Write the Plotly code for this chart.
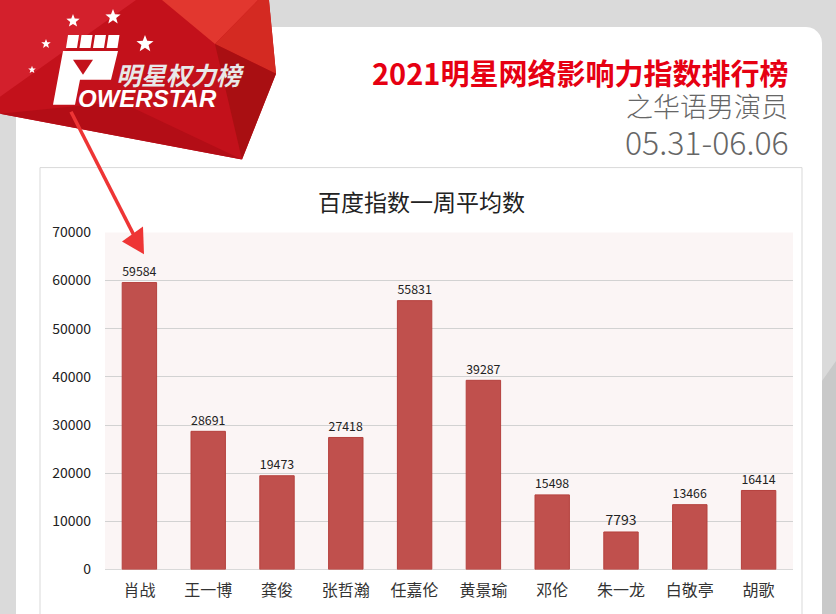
import math
import plotly.graph_objects as go

# ---------------- data ----------------
names = ["肖战", "王一博", "龚俊", "张哲瀚", "任嘉伦", "黄景瑜", "邓伦", "朱一龙", "白敬亭", "胡歌"]
values = [59584, 28691, 19473, 27418, 55831, 39287, 15498, 7793, 13466, 16414]
y_ticks = [0, 10000, 20000, 30000, 40000, 50000, 60000, 70000]

chart_title = "百度指数一周平均数"
header_title = "2021明星网络影响力指数排行榜"
header_sub = "之华语男演员"
header_date = "05.31-06.06"
logo_cn = "明星权力榜"
logo_en = "OWERSTAR"

# ---------------- helpers (pixel -> paper) ----------------
W, H = 836, 614
CJK = "Noto Sans CJK SC"


def px(x):
    return x / W


def py(y):
    yc = (y - 9.0) / 0.97
    return 1 - yc / H


def path(points):
    return "M " + " L ".join(f"{px(x):.5f},{py(y):.5f}" for x, y in points) + " Z"


def poly(points, fill, layer="below"):
    return dict(type="path", xref="paper", yref="paper", path=path(points),
                fillcolor=fill, line=dict(width=0), layer=layer)


def star(cx, cy, r):
    pts = []
    for i in range(10):
        ang = -math.pi / 2 + i * math.pi / 5
        rr = r if i % 2 == 0 else r * 0.42
        pts.append((cx + rr * math.cos(ang), cy + rr * math.sin(ang)))
    return pts


shapes = []
# white card with rounded top-right corner
card = [(16, 25)]
for k in range(0, 7):
    a = -math.pi / 2 + k * (math.pi / 2) / 6
    card.append((806 + 16 * math.cos(a), 41 + 16 * math.sin(a)))
card += [(822, 640), (16, 640)]
shapes.append(poly(card, "#ffffff"))
# darker gray at right side
shapes.append(poly([(822, 380), (836, 360), (836, 640), (822, 640)], "#c9c9c9"))
# chart box
shapes.append(dict(type="rect", xref="paper", yref="paper",
                   x0=px(40), x1=px(802), y0=py(650), y1=py(166),
                   fillcolor="#ffffff", line=dict(color="#d9d9d9", width=1), layer="below"))
# plot area background
shapes.append(dict(type="rect", xref="paper", yref="paper",
                   x0=px(105), x1=px(793), y0=py(569), y1=py(231),
                   fillcolor="#fbf5f5", line=dict(width=0), layer="below"))

# red logo polygon facets
shapes.append(poly([(0, -12), (268, -12), (276, 72), (242, 158), (0, 112)], "#c3111b"))
shapes.append(poly([(0, -12), (150, -12), (0, 95)], "#d3202c"))
shapes.append(poly([(150, -12), (268, -12), (215, 42)], "#e2372f"))
shapes.append(poly([(215, 42), (268, -12), (276, 72)], "#d42a22"))
shapes.append(poly([(215, 42), (276, 72), (242, 158)], "#a90f12"))
shapes.append(poly([(0, 112), (120, 100), (242, 158)], "#b30d16"))

# stars
for (cx, cy, r) in [(73, 19, 7), (113, 15, 8), (145, 42, 9), (46, 42, 5), (32, 68, 4)]:
    shapes.append(poly(star(cx, cy, r), "#ffffff"))

# fist icon (P of POWERSTAR)
for i in range(4):
    x0 = 66 + 13.5 * i
    shapes.append(poly([(x0 + 2, 33), (x0 + 13, 33), (x0 + 11, 46), (x0, 46)], "#ffffff"))
shapes.append(poly([(63, 49), (118, 49), (111, 78), (80, 78), (75, 103), (53, 103)], "#ffffff"))
shapes.append(poly([(73, 58), (93, 58), (83, 73)], "#c3111b"))

# red arrow
shapes.append(dict(type="line", xref="paper", yref="paper",
                   x0=px(71), y0=py(110), x1=px(135), y1=py(236),
                   line=dict(color="#ee3535", width=3.5), layer="above"))
shapes.append(poly([(122, 240), (143, 225), (144, 253)], "#ee3535", layer="above"))

annotations = [
    dict(text=header_title, x=px(790), y=py(70), xanchor="right", yanchor="middle",
         font=dict(family=CJK, size=29, color="#e60012", weight="bold")),
    dict(text=header_sub, x=px(790), y=py(104), xanchor="right", yanchor="middle",
         font=dict(family=CJK, size=27, color="#666666", weight=300)),
    dict(text=header_date, x=px(791), y=py(139), xanchor="right", yanchor="middle",
         font=dict(family=CJK, size=32, color="#666666", weight=300)),
    dict(text=chart_title, x=px(421), y=py(200), xanchor="center", yanchor="middle",
         font=dict(family=CJK, size=23, color="#222222")),
    dict(text=logo_cn, x=px(114), y=py(72), xanchor="left", yanchor="middle",
         font=dict(family=CJK, size=25, color="#e8e8e8", weight="bold", style="italic")),
    dict(text=logo_en, x=px(76), y=py(97), xanchor="left", yanchor="middle",
         font=dict(family="Liberation Sans", size=24, color="#ffffff", weight="bold", style="italic")),
]
for a in annotations:
    a.update(xref="paper", yref="paper", showarrow=False)

fig = go.Figure(go.Bar(
    x=names, y=values,
    marker=dict(color="#c0504d", line=dict(color="#b5403d", width=1)),
    text=[str(v) for v in values], textposition="outside",
    textfont=dict(family=CJK, size=14, color="#222222"),
    cliponaxis=False, width=0.5,
))

fig.update_layout(
    width=W, height=H,
    margin=dict(l=0, r=0, t=0, b=0),
    paper_bgcolor="#dadada", plot_bgcolor="rgba(0,0,0,0)",
    showlegend=False, shapes=shapes, annotations=annotations,
    xaxis=dict(domain=[px(105), px(793)], showline=False, ticks="",
               tickfont=dict(family=CJK, size=16, color="#333333"),
               ticklabelstandoff=9, showgrid=False),
    yaxis=dict(domain=[py(569), py(231)], range=[0, 70000], tickvals=y_ticks,
               tickformat="d", showgrid=True, gridcolor="#d2d2d2", gridwidth=1,
               zeroline=True, zerolinecolor="#d9d9d9", zerolinewidth=1, showline=False,
               tickfont=dict(family=CJK, size=14, color="#222222"),
               ticklabelstandoff=13, ticks=""),
)

post = (
    "document.documentElement.style.margin='0';"
    "document.documentElement.style.overflow='hidden';"
    "document.body.style.margin='0';"
    "document.body.style.overflow='hidden';"
    "var d=document.getElementById('{plot_id}');"
    "d.style.position='fixed';d.style.left='0px';d.style.top='0px';"
)

fig.write_html("out.html", div_id="chart", config={"displayModeBar": False},
               post_script=post)
